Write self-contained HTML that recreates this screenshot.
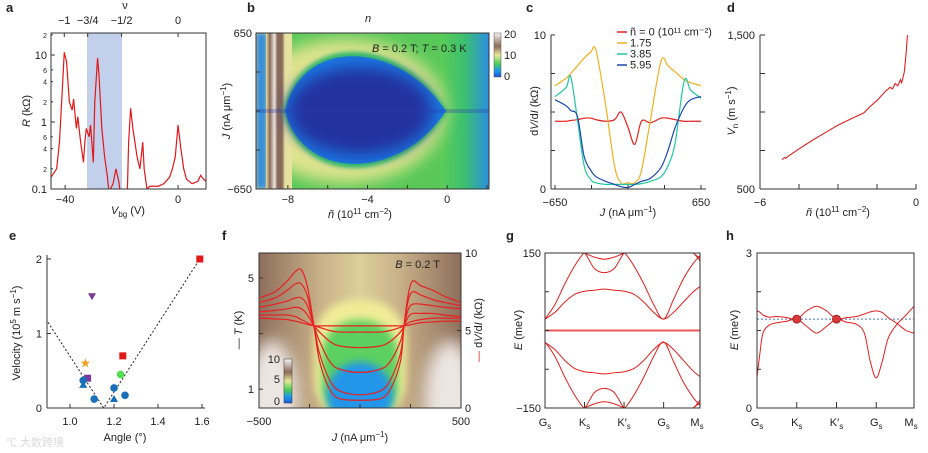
<!DOCTYPE html>
<html><head><meta charset="utf-8"><style>
html,body{margin:0;padding:0;background:#fff;}
svg{display:block;font-family:"Liberation Sans","Noto Sans CJK SC",sans-serif;}
text{fill:#222;font-size:11px;}
.pl{font-weight:bold;font-size:13px;}
.sm{font-size:7px;}
</style></head><body>
<svg id="fig" width="928" height="453" viewBox="0 0 928 453">
<defs>
<filter id="bl4" x="-20%" y="-20%" width="140%" height="140%"><feGaussianBlur stdDeviation="4"/></filter>
<filter id="bl8" x="-30%" y="-30%" width="160%" height="160%"><feGaussianBlur stdDeviation="8"/></filter>
<filter id="bl2"><feGaussianBlur stdDeviation="2"/></filter>
<clipPath id="ca"><rect x="51" y="33" width="155" height="156"/></clipPath>
<clipPath id="cb"><rect x="256" y="33" width="233" height="156"/></clipPath>
<clipPath id="cc"><rect x="550" y="33" width="156" height="156"/></clipPath>
<clipPath id="cf"><rect x="259" y="253" width="202" height="155"/></clipPath>
<clipPath id="cg"><rect x="545" y="253" width="155" height="155"/></clipPath>
<clipPath id="ch"><rect x="757" y="253" width="157" height="155"/></clipPath>
<linearGradient id="cbar" x1="0" y1="1" x2="0" y2="0">
<stop offset="0" stop-color="#1a5ad8"/><stop offset="0.15" stop-color="#1f9ae8"/><stop offset="0.3" stop-color="#4ccc55"/><stop offset="0.5" stop-color="#e8e89a"/><stop offset="0.7" stop-color="#8c6a5a"/><stop offset="1" stop-color="#f4f4f4"/></linearGradient>
<linearGradient id="bright" x1="0" y1="0" x2="1" y2="0">
<stop offset="0" stop-color="#5ccc55"/><stop offset="0.5" stop-color="#3cc070"/><stop offset="1" stop-color="#2a8ee2"/></linearGradient>
<linearGradient id="stripe" x1="0" y1="0" x2="1" y2="0">
<stop offset="0" stop-color="#e8e2a0"/><stop offset="0.2" stop-color="#8a6a5a"/><stop offset="0.45" stop-color="#efe8e4"/><stop offset="0.6" stop-color="#8a6a5a"/><stop offset="0.85" stop-color="#8a6a5a"/><stop offset="1" stop-color="#e8e2a0"/></linearGradient>
<linearGradient id="fbg" x1="0" y1="0" x2="1" y2="0">
<stop offset="0" stop-color="#8e6e5c"/><stop offset="0.3" stop-color="#c8b088"/><stop offset="0.5" stop-color="#ddd09a"/><stop offset="0.7" stop-color="#c8b088"/><stop offset="1" stop-color="#8e6e5c"/></linearGradient>
</defs>

<!-- Panel a -->
<g>
<text class="pl" x="6" y="12">a</text>
<rect x="87" y="33" width="35" height="156" fill="#c2d0ec"/>
<g id="ga" clip-path="url(#ca)"></g>
<rect x="51" y="33" width="155" height="156" fill="none" stroke="#333" stroke-width="1"/>
<text x="125" y="9" text-anchor="middle">ν</text>
<g id="gaTop"></g>
<g id="gaAx"></g>
<text transform="rotate(-90 30 111)" x="30" y="111" text-anchor="middle"><tspan font-style="italic">R</tspan> (kΩ)</text>
<text x="128" y="214" text-anchor="middle"><tspan font-style="italic">V</tspan><tspan font-size="8" dy="3">bg</tspan><tspan dy="-3"> (V)</tspan></text>
</g>

<!-- Panel b -->
<g>
<text class="pl" x="247" y="12">b</text>
<text x="368" y="22" text-anchor="middle" font-style="italic">n</text>
<g clip-path="url(#cb)">
<rect x="256" y="33" width="233" height="156" fill="#58c858"/>
<rect x="440" y="33" width="49" height="156" fill="url(#bright)"/>
<ellipse cx="345" cy="111" rx="100" ry="72" fill="#e0e48e" filter="url(#bl8)"/>
<rect x="256" y="33" width="36" height="156" fill="#e6e2a0"/>
<rect x="256" y="33" width="11" height="156" fill="#3a8ed8" filter="url(#bl2)"/>
<rect x="266" y="33" width="19" height="156" fill="url(#stripe)"/>
<path d="M283,111 C300,30 400,34 448,111 C400,188 300,186 283,111Z" fill="#35c06a" filter="url(#bl2)"/>
<path d="M285,111 C302,36 398,40 446,111 C398,183 302,180 285,111Z" fill="#1a78e4"/>
<ellipse cx="360" cy="111" rx="72" ry="44" fill="#23309e" filter="url(#bl8)"/>
<rect x="256" y="109" width="233" height="4" fill="#2a3aa8" opacity="0.3"/>
</g>
<rect x="256" y="33" width="233" height="156" fill="none" stroke="#333"/>
<text x="372" y="52" font-size="12"><tspan font-style="italic">B</tspan> = 0.2 T; <tspan font-style="italic">T</tspan> = 0.3 K</text>
<rect x="494" y="33" width="7" height="44" fill="url(#cbar)" stroke="#555" stroke-width="0.5"/>
<text x="504" y="38">20</text>
<text x="504" y="59">10</text>
<text x="504" y="80">0</text>
<g id="gbAx"></g>
<text transform="rotate(-90 230 111)" x="230" y="111" text-anchor="middle"><tspan font-style="italic">J</tspan> (nA μm<tspan font-size="8" dy="-4">−1</tspan><tspan dy="4">)</tspan></text>
<text x="360" y="218" text-anchor="middle"><tspan font-style="italic">ñ</tspan> (10<tspan font-size="8" dy="-4">11</tspan><tspan dy="4"> cm</tspan><tspan font-size="8" dy="-4">−2</tspan><tspan dy="4">)</tspan></text>
</g>

<!-- Panel c -->
<g>
<text class="pl" x="526" y="12">c</text>
<g id="gc" clip-path="url(#cc)"></g>
<g id="gcAx"></g>
<text transform="rotate(-90 538 111)" x="538" y="111" text-anchor="middle">d<tspan font-style="italic">V</tspan>/d<tspan font-style="italic">I</tspan> (kΩ)</text>
<text x="628" y="216" text-anchor="middle"><tspan font-style="italic">J</tspan> (nA μm<tspan font-size="8" dy="-4">−1</tspan><tspan dy="4">)</tspan></text>
<g id="gcLeg" font-size="10"></g>
</g>

<!-- Panel d -->
<g>
<text class="pl" x="727" y="12">d</text>
<g id="gd"></g>
<g id="gdAx"></g>
<text transform="rotate(-90 735 111)" x="735" y="111" text-anchor="middle"><tspan font-style="italic">V</tspan><tspan font-size="8" dy="3">n</tspan><tspan dy="-3"> (m s</tspan><tspan font-size="8" dy="-4">−1</tspan><tspan dy="4">)</tspan></text>
<text x="838" y="216" text-anchor="middle"><tspan font-style="italic">ñ</tspan> (10<tspan font-size="8" dy="-4">11</tspan><tspan dy="4"> cm</tspan><tspan font-size="8" dy="-4">−2</tspan><tspan dy="4">)</tspan></text>
</g>

<!-- Panel e -->
<g>
<text class="pl" x="9" y="240">e</text>
<g id="ge"></g>
<g id="geAx"></g>
<text transform="rotate(-90 20 333)" x="20" y="333" text-anchor="middle">Velocity (10<tspan font-size="8" dy="-4">5</tspan><tspan dy="4"> m s</tspan><tspan font-size="8" dy="-4">−1</tspan><tspan dy="4">)</tspan></text>
<text x="125" y="441" text-anchor="middle">Angle (°)</text>
<text x="6" y="446" font-size="17" style="fill:#d0d0d0" opacity="0.8">℃ 大数跨境</text>
</g>

<!-- Panel f -->
<g>
<text class="pl" x="222" y="240">f</text>
<g clip-path="url(#cf)">
<rect x="259" y="253" width="202" height="155" fill="url(#fbg)"/>
<ellipse cx="272" cy="400" rx="26" ry="60" fill="#ece6e2" filter="url(#bl8)"/>
<ellipse cx="450" cy="400" rx="26" ry="60" fill="#ece6e2" filter="url(#bl8)"/>
<rect x="314" y="300" width="92" height="120" rx="40" fill="#f0ec96" filter="url(#bl4)"/>
<rect x="322" y="320" width="76" height="100" rx="35" fill="#5cd060" filter="url(#bl4)"/>
<circle cx="360" cy="395" r="33" fill="#2096e8" filter="url(#bl4)"/>
</g>
<rect x="259" y="253" width="202" height="155" fill="none" stroke="#333"/>
<g id="gf" clip-path="url(#cf)"></g>
<rect x="284" y="359" width="8" height="44" fill="url(#cbar)" stroke="#333" stroke-width="0.5"/>
<text x="280" y="363" text-anchor="end">10</text>
<text x="280" y="383" text-anchor="end">5</text>
<text x="280" y="405" text-anchor="end">0</text>
<text x="440" y="268" text-anchor="end" font-size="12"><tspan font-style="italic">B</tspan> = 0.2 T</text>
<g id="gfAx"></g>
<text transform="rotate(-90 242 330)" x="242" y="330" text-anchor="middle">— <tspan font-style="italic">T</tspan> (K)</text>
<text transform="rotate(-90 482 330)" x="482" y="330" text-anchor="middle"><tspan style="fill:#e02020">—</tspan> d<tspan font-style="italic">V</tspan>/d<tspan font-style="italic">I</tspan> (kΩ)</text>
<text x="360" y="441" text-anchor="middle"><tspan font-style="italic">J</tspan> (nA μm<tspan font-size="8" dy="-4">−1</tspan><tspan dy="4">)</tspan></text>
</g>

<!-- Panel g -->
<g>
<text class="pl" x="506" y="240">g</text>
<g id="gg" clip-path="url(#cg)"></g>
<rect x="545" y="253" width="155" height="155" fill="none" stroke="#333"/>
<g id="ggAx"></g>
<text transform="rotate(-90 522 330)" x="522" y="330" text-anchor="middle"><tspan font-style="italic">E</tspan> (meV)</text>
</g>

<!-- Panel h -->
<g>
<text class="pl" x="726" y="240">h</text>
<g id="gh" clip-path="url(#ch)"></g>
<rect x="757" y="253" width="157" height="155" fill="none" stroke="#333"/>
<g id="ghAx"></g>
<text transform="rotate(-90 738 330)" x="738" y="330" text-anchor="middle"><tspan font-style="italic">E</tspan> (meV)</text>
</g>
</svg>

<script>
// ---- Panel a data ----
const aV=[-45,-43,-42,-41,-40.3,-39.5,-38.5,-37.5,-37,-36,-35.5,-34.5,-33.5,-33,-32.5,-31.5,-31,-30,-29.5,-28.5,-28,-27,-26,-25,-24.5,-23,-22,-21,-20.5,-20,-18,-17.5,-16.8,-16,-14.5,-13.5,-12.5,-12,-11,-10,-7,-5,-3,-2,-1,0,1,2,3,5,7,8,9,10];
const aR=[0.15,0.2,0.5,3,11,8,2,1.5,2.2,0.8,1.2,0.5,0.25,0.5,0.8,0.6,0.9,0.25,2,9,5,0.8,0.3,0.15,0.09,0.12,0.2,0.13,0.09,0.08,0.08,0.5,1.6,0.8,0.3,0.2,0.5,0.2,0.1,0.11,0.11,0.12,0.15,0.2,0.3,0.9,0.4,0.2,0.14,0.12,0.13,0.16,0.14,0.13];
const aNuLabels=["−1","−3/4","−1/2","0"];
const aNuV=[-40.3,-32,-20,0];
// ---- Panel c data ----
const cJ=[-650,-550,-510,-450,-390,-330,-285,-200,-120,-62,0,60,120,200,294,356,420,500,560,650];
const cRed=[4.4,4.4,4.45,4.5,4.6,4.6,4.5,4.4,4.5,5.0,4.0,2.9,4.4,4.3,4.6,4.6,4.5,4.4,4.4,4.4];
const cOrange=[6.7,7.2,7.5,8.0,8.5,8.9,9.0,5.5,1.5,0.4,0.4,0.4,1.2,4.5,8.3,8.0,7.6,7.1,6.9,6.7];
const cGreen=[6.0,6.6,7.3,4.5,1.5,0.6,0.4,0.3,0.3,0.3,0.3,0.3,0.35,0.5,0.8,1.5,3.0,7.0,6.4,5.9];
const cBlue=[5.8,5.4,5.1,4.7,2.1,1.2,0.8,0.5,0.3,0.15,0.1,0.3,0.5,0.7,1.4,2.5,4.0,5.3,5.8,6.0];
const cLegend=["ñ = 0 (10¹¹ cm⁻²)","1.75","3.85","5.95"];
// ---- Panel d data ----
const dN=[-5.15,-5.05,-5,-4.9,-4.5,-4,-3.5,-3,-2.5,-2,-1.8,-1.5,-1.2,-1.0,-0.9,-0.8,-0.7,-0.6,-0.55,-0.45,-0.38,-0.33];
const dV=[690,705,700,715,760,815,865,915,955,995,1030,1075,1130,1160,1150,1185,1170,1210,1190,1260,1380,1500];
// ---- Panel e data ----
const eAngle=[1.59,1.10,1.07,1.08,1.06,1.06,1.11,1.24,1.23,1.20,1.20,1.25];
const eVel=[2.0,1.5,0.6,0.4,0.37,0.31,0.12,0.7,0.45,0.27,0.12,0.17];
const eShape=["square","tridown","star","square","circle","tri","circle","square","circle","circle","tri","circle"];
const eColor=["#e01818","#7a3a9a","#f0a020","#7a3a9a","#1a70b8","#1a70b8","#1a70b8","#e01818","#50e050","#1a70b8","#1a70b8","#1a70b8"];
const eFitA=[0.9,1.153,1.59];
const eFitV=[1.15,0,2.0];
// ---- Panel f data (right axis dV/dI) ----
const fJ=[-500,-420,-360,-320,-290,-260,-228,-200,-150,-100,0,100,150,200,218,240,262,300,360,420,500];
const fCurves=[
 [7.1,7.5,8.2,8.8,8.9,7.8,5.3,3.0,1.2,0.6,0.5,0.6,1.2,3.0,5.3,7.4,8.2,7.9,7.6,7.2,6.8],
 [6.8,7.1,7.6,8.0,8.0,7.2,5.3,3.5,1.8,1.1,0.85,1.1,1.8,3.5,5.3,7.0,7.5,7.3,7.0,6.8,6.6],
 [6.5,6.7,6.9,7.1,7.1,6.6,5.3,4.3,3.0,2.5,2.3,2.5,3.0,4.3,5.3,6.4,6.7,6.7,6.6,6.5,6.4],
 [6.2,6.3,6.4,6.5,6.4,6.0,5.3,4.9,4.3,4.0,3.9,4.0,4.3,4.9,5.3,5.9,6.1,6.1,6.1,6.0,5.9],
 [6.0,6.0,6.0,5.9,5.7,5.5,5.3,5.2,5.0,4.9,4.9,4.9,5.0,5.2,5.3,5.5,5.6,5.7,5.8,5.8,5.8],
 [5.8,5.75,5.7,5.6,5.5,5.4,5.3,5.3,5.3,5.3,5.3,5.3,5.3,5.3,5.3,5.35,5.4,5.5,5.55,5.6,5.6]
];
// ---- Panel g data (t: 0=Gs,1=Ks,2=K's,3=Gs,3.92=Ms) ----
const gT=[0,0.25,0.5,0.75,1,1.25,1.5,1.75,2,2.25,2.5,2.75,3,3.25,3.5,3.75,3.92];
const gU1=[22,35,55,70,76,78,80,78,76,70,55,35,22,35,55,75,85];
const gU2=[22,50,90,125,152,170,180,170,152,125,90,50,22,60,100,130,145];
const gU3=[170,160,155,152,150,120,112,120,150,165,175,175,175,170,160,150,135];
const gU4=[200,190,175,160,150,142,138,142,150,160,175,190,200,190,170,150,140];
const gL1=gU1.map(v=>-v*1.05);
const gL2=gU2.map(v=>-v);
const gL3=gU3.map(v=>-v);
const gL4=gU4.map(v=>-v);
const gFlat=[0,0,0,0,0,0,0,0,0,0,0,0,0,0,0,0,0];
// ---- Panel h data ----
const hT=[0,0.08,0.15,0.3,0.5,0.75,1,1.25,1.5,1.75,2,2.25,2.5,2.7,2.85,3,3.15,3.3,3.5,3.75,3.95];
const hB1=[0.6,1.1,1.45,1.6,1.65,1.68,1.72,1.58,1.45,1.58,1.72,1.66,1.62,1.45,0.9,0.58,0.9,1.35,1.6,1.8,1.97];
const hB2=[1.88,1.85,1.8,1.76,1.77,1.75,1.72,1.88,1.97,1.88,1.72,1.75,1.77,1.82,1.86,1.88,1.85,1.75,1.65,1.5,1.45];
const hDirac=[1,2];
const hDiracE=[1.72,1.72];
const hFermi=1.72;

const NS="http://www.w3.org/2000/svg";
function lin(d0,d1,r0,r1){return v=>r0+(v-d0)*(r1-r0)/(d1-d0);}
function el(tag,attrs,parent){const e=document.createElementNS(NS,tag);for(const k in attrs)e.setAttribute(k,attrs[k]);parent.appendChild(e);return e;}
function smoothD(p){let d="M"+p[0][0].toFixed(2)+","+p[0][1].toFixed(2);for(let i=0;i<p.length-1;i++){const p0=p[i-1]||p[i],p1=p[i],p2=p[i+1],p3=p[i+2]||p2;const c1=[p1[0]+(p2[0]-p0[0])/6,p1[1]+(p2[1]-p0[1])/6],c2=[p2[0]-(p3[0]-p1[0])/6,p2[1]-(p3[1]-p1[1])/6];d+="C"+c1[0].toFixed(2)+","+c1[1].toFixed(2)+" "+c2[0].toFixed(2)+","+c2[1].toFixed(2)+" "+p2[0].toFixed(2)+","+p2[1].toFixed(2);}return d;}
function linD(p){return p.map((q,i)=>(i?"L":"M")+q[0].toFixed(2)+","+q[1].toFixed(2)).join("");}
function tick(g,x1,y1,x2,y2){const t=el("line",{x1,y1,x2,y2,stroke:"#333","stroke-width":1},g);}
function label(g,x,y,s,anchor,cls){const t=el("text",{x,y,"text-anchor":anchor||"middle"},g);if(cls)t.setAttribute("class",cls);t.textContent=s;return t;}
function sub(g,x,y,main,subs,prime){const t=el("text",{x,y,"text-anchor":"middle"},g);t.textContent=main+(prime?"′":"");const s=el("tspan",{"font-size":"8",dy:"3"},t);s.textContent=subs;}

// Panel a
{const X=lin(-45,9.9,51,206),Y=v=>189-67*(Math.log10(v)+1);
const g=document.getElementById("ga");
const p=el("path",{d:linD(aV.map((v,i)=>[X(v),Y(aR[i])])),fill:"none",stroke:"#e01818","stroke-width":1.2},g);

const ax=document.getElementById("gaAx");
[-40,0].forEach(v=>{tick(ax,X(v),189,X(v),185);label(ax,X(v),203,v<0?"−"+(-v):String(v));});
[0.1,1,10].forEach(v=>{tick(ax,51,Y(v),55,Y(v));label(ax,47,Y(v)+4,String(v),"end");});
[0.2,0.4,0.6,2,4,6,20].forEach(v=>{tick(ax,51,Y(v),53,Y(v));label(ax,47,Y(v)+3,String(v).replace(/^0\.|0$/g,"").slice(0,1),"end","sm");});
const top=document.getElementById("gaTop");
aNuV.forEach((v,i)=>{tick(top,X(v),33,X(v),37);label(top,X(v),24,aNuLabels[i]);});}

// Panel b axes
{const X=lin(-9.6,2.1,256,489),Y=lin(-650,650,189,33);const ax=document.getElementById("gbAx");
[-8,-6,-4,-2,0,2].forEach(v=>{tick(ax,X(v),189,X(v),185);});
[-8,-4,0].forEach(v=>label(ax,X(v),203,v<0?"−"+(-v):"0"));
[-650,-325,0,325,650].forEach(v=>tick(ax,256,Y(v),260,Y(v)));
label(ax,252,37,"650","end");label(ax,252,193,"−650","end");}

// Panel c
{const X=lin(-650,650,555,701),Y=lin(0,10,189,35);const g=document.getElementById("gc");
const series=[[cRed,"#e02020","curve-n0"],[cOrange,"#f0b020","curve-n1.75"],[cGreen,"#20c8a0","curve-n3.85"],[cBlue,"#1a48b0","curve-n5.95"]];
series.forEach(s=>{const p=el("path",{d:smoothD(cJ.map((j,i)=>[X(j),Y(s[0][i])])),fill:"none",stroke:s[1],"stroke-width":1.2},g);});
const ax=document.getElementById("gcAx");
const l1=el("line",{x1:551,y1:35,x2:551,y2:189,stroke:"#333"},ax);
const l2=el("line",{x1:551,y1:189,x2:706,y2:189,stroke:"#333"},ax);
[-650,-325,0,325,650].forEach(v=>tick(ax,X(v),189,X(v),185));
[0,2.5,5,7.5,10].forEach(v=>tick(ax,551,Y(v),555,Y(v)));
label(ax,546,39,"10","end");label(ax,546,193,"0","end");label(ax,X(-650),206,"−650");label(ax,X(650),206,"650");
const lg=document.getElementById("gcLeg");
series.forEach((s,i)=>{const y=32+i*11;const ln=el("line",{x1:617,y1:y,x2:627,y2:y,stroke:s[1],"stroke-width":1.5},lg);
const t=el("text",{x:630,y:y+3.5,"font-size":"10"},lg);t.textContent=cLegend[i];});}

// Panel d
{const X=lin(-6,0,760,916),Y=lin(500,1500,189,35);const g=document.getElementById("gd");
const p=el("path",{d:linD(dN.map((n,i)=>[X(n),Y(dV[i])])),fill:"none",stroke:"#e02020","stroke-width":1.1},g);
const ax=document.getElementById("gdAx");
const l1=el("line",{x1:760,y1:35,x2:760,y2:189,stroke:"#333"},ax);
const l2=el("line",{x1:760,y1:189,x2:916,y2:189,stroke:"#333"},ax);
[-6,-4.5,-3,-1.5,0].forEach(v=>tick(ax,X(v),189,X(v),184));
[500,750,1000,1250,1500].forEach(v=>tick(ax,760,Y(v),765,Y(v)));
label(ax,755,39,"1,500","end");label(ax,755,193,"500","end");label(ax,X(-6),206,"−6");label(ax,X(0),206,"0");}

// Panel e
{const X=lin(0.9,1.6,48,202),Y=lin(0,2,408,259);const g=document.getElementById("ge");
const f=el("path",{d:linD(eFitA.map((a,i)=>[X(a),Y(eFitV[i])])),fill:"none",stroke:"#222","stroke-width":1,"stroke-dasharray":"2,2"},g);
eAngle.forEach((a,i)=>{const x=X(a),y=Y(eVel[i]),c=eColor[i],s=eShape[i];let m;
if(s==="square")m=el("rect",{x:x-3.5,y:y-3.5,width:7,height:7,fill:c},g);
else if(s==="circle")m=el("circle",{cx:x,cy:y,r:3.8,fill:c},g);
else if(s==="tri")m=el("path",{d:`M${x},${y-4}L${x+4},${y+3}L${x-4},${y+3}Z`,fill:c},g);
else if(s==="tridown")m=el("path",{d:`M${x-4},${y-3}L${x+4},${y-3}L${x},${y+4}Z`,fill:c},g);
else{let d="";for(let k=0;k<10;k++){const r=k%2?2:5,an=-Math.PI/2+k*Math.PI/5;d+=(k?"L":"M")+(x+r*Math.cos(an)).toFixed(2)+","+(y+r*Math.sin(an)).toFixed(2);}m=el("path",{d:d+"Z",fill:c},g);}
});
const ax=document.getElementById("geAx");
const l1=el("line",{x1:47,y1:255,x2:47,y2:408,stroke:"#333"},ax);
const l2=el("line",{x1:47,y1:408,x2:205,y2:408,stroke:"#333"},ax);
[1.0,1.2,1.4,1.6].forEach(v=>{tick(ax,X(v),408,X(v),404);label(ax,X(v),425,v.toFixed(1));});
[0,1,2].forEach(v=>{tick(ax,47,Y(v),51,Y(v));label(ax,42,Y(v)+4,String(v),"end");});}

// Panel f
{const X=lin(-500,500,259,461),Y=lin(0,10,408,253);const g=document.getElementById("gf");
fCurves.forEach((c,k)=>{const p=el("path",{d:smoothD(fJ.map((j,i)=>[X(j),Y(c[i])])),fill:"none",stroke:"#e82020","stroke-width":1.2},g);});
const ax=document.getElementById("gfAx");const YT=lin(0,5,417,278);
[-250,0,250].forEach(v=>tick(ax,X(v),408,X(v),404));
[1,3,5].forEach(v=>tick(ax,259,YT(v),263,YT(v)));
label(ax,254,YT(5)+4,"5","end");label(ax,254,YT(1)+4,"1","end");
[0,5,10].forEach(v=>{tick(ax,461,Y(v),457,Y(v));label(ax,465,Y(v)+4,String(v),"start");});
label(ax,259,425,"−500");label(ax,461,425,"500");}

// Panel g
{const X=lin(0,3.92,545,700),Y=lin(-150,150,408,253);const g=document.getElementById("gg");
[gU1,gU2,gU3,gU4,gL1,gL2,gL3,gL4].forEach((b,k)=>{const p=el("path",{d:smoothD(gT.map((t,i)=>[X(t),Y(b[i])])),fill:"none",stroke:"#e02020","stroke-width":1},g);});
[-1,1].forEach(o=>{const p=el("path",{d:linD(gT.map((t,i)=>[X(t),Y(gFlat[i]+o)])),fill:"none",stroke:"#e02020","stroke-width":0.8},g);});
const ax=document.getElementById("ggAx");
[-75,0,75].forEach(v=>tick(ax,545,Y(v),549,Y(v)));
[1,2,3].forEach(v=>tick(ax,X(v),408,X(v),402));
label(ax,541,Y(150)+4,"150","end");label(ax,541,Y(-150)+4,"−150","end");
sub(ax,X(0),426,"G","s");sub(ax,X(1),426,"K","s");sub(ax,X(2),426,"K","s",true);sub(ax,X(3),426,"G","s");sub(ax,X(3.92)-3,426,"M","s");}

// Panel h
{const X=lin(0,3.95,757,914),Y=lin(0,3,408,253);const g=document.getElementById("gh");
const fl=el("line",{x1:757,y1:Y(hFermi),x2:914,y2:Y(hFermi),stroke:"#4a70c8","stroke-width":1,"stroke-dasharray":"2,2"},g);
[hB1,hB2].forEach((b,k)=>{const p=el("path",{d:smoothD(hT.map((t,i)=>[X(t),Y(b[i])])),fill:"none",stroke:"#e02020","stroke-width":1},g);});
hDirac.forEach((t,i)=>{const c=el("circle",{cx:X(t),cy:Y(hDiracE[i]),r:4,fill:"#d83a3a",stroke:"#a01010","stroke-width":0.8},g);});
const ax=document.getElementById("ghAx");
[0.75,1.5,2.25].forEach(v=>tick(ax,757,Y(v),761,Y(v)));
[1,2,3].forEach(v=>tick(ax,X(v),408,X(v),402));
label(ax,752,Y(3)+4,"3","end");label(ax,752,Y(0)+4,"0","end");
sub(ax,X(0),426,"G","s");sub(ax,X(1),426,"K","s");sub(ax,X(2),426,"K","s",true);sub(ax,X(3),426,"G","s");sub(ax,X(3.95)-3,426,"M","s");}
</script>
</body></html>
